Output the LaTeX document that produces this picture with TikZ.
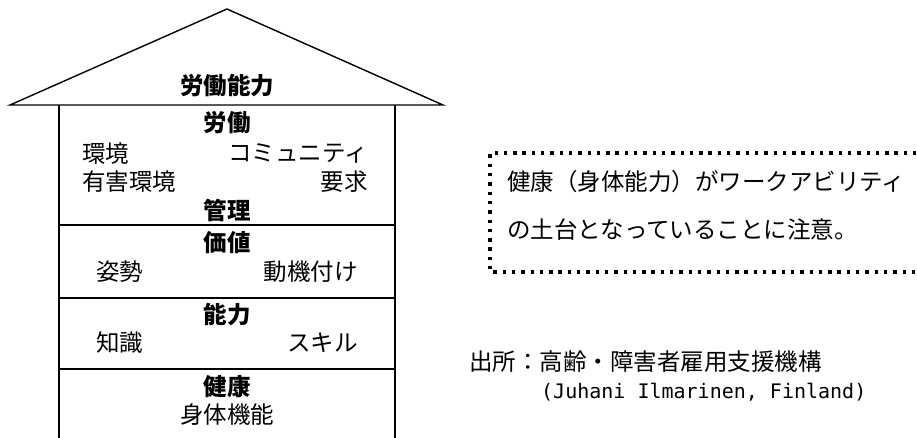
\documentclass[tikz,border=0pt]{standalone}
\usepackage{fontspec}
\setmainfont{Noto Sans CJK JP}
\newfontfamily\monofnt{DejaVu Sans Mono}
\begin{document}
\begin{tikzpicture}[x=1pt,y=1pt,
  txt/.style={inner sep=0pt,font=\fontsize{23.5}{28}\selectfont},
  head/.style={txt,font=\fontsize{23.5}{28}\selectfont\bfseries},
  wall/.style={line width=2pt},
  roof/.style={line width=1.4pt,line join=miter},
  note/.style={line width=3.4pt,dash pattern=on 3.4pt off 5.9pt}]
\useasboundingbox (0,0) rectangle (917,-437);
% roof
\coordinate (apex) at (227,-9);
\coordinate (rl) at (10,-105);
\coordinate (rr) at (443,-105);
\draw[roof] (rl) -- (apex) -- (rr) -- cycle;
% walls
\coordinate (wl) at (59,-105);
\coordinate (wr) at (395,-105);
\coordinate (bl) at (59,-445);
\coordinate (br) at (395,-445);
\draw[wall] (wl) -- (bl);
\draw[wall] (wr) -- (br);
% dividers
\coordinate (d1l) at (59,-225); \coordinate (d1r) at (395,-225);
\coordinate (d2l) at (59,-298); \coordinate (d2r) at (395,-298);
\coordinate (d3l) at (59,-369); \coordinate (d3r) at (395,-369);
\draw[wall] (d1l) -- (d1r);
\draw[wall] (d2l) -- (d2r);
\draw[wall] (d3l) -- (d3r);
% texts
\node[head] (t0) at (227,-86) {労働能力};
\node[head] (t1) at (227,-123) {労働};
\node[txt,anchor=west] (t2) at (82,-154) {環境};
\node[txt,anchor=east] (t3) at (368,-154) {コミュニティ};
\node[txt,anchor=west] (t4) at (82,-182) {有害環境};
\node[txt,anchor=east] (t5) at (368,-182) {要求};
\node[head] (t6) at (227,-210) {管理};
\node[head] (t7) at (227,-243) {価値};
\node[txt,anchor=west] (t8) at (96,-272) {姿勢};
\node[txt,anchor=east] (t9) at (358,-272) {動機付け};
\node[head] (t10) at (227,-315) {能力};
\node[txt,anchor=west] (t11) at (96,-343) {知識};
\node[txt,anchor=east] (t12) at (358,-343) {スキル};
\node[head] (t13) at (227,-387) {健康};
\node[txt] (t14) at (227,-415) {身体機能};
% note box
\coordinate (n1) at (935,-153);
\coordinate (n2) at (490,-153);
\coordinate (n3) at (490,-272);
\coordinate (n4) at (935,-272);
\draw[note] (n1) -- (n2) -- (n3) -- (n4);
\node[txt,anchor=west] (m1) at (507,-182) {健康（身体能力）がワークアビリティ};
\node[txt,anchor=west] (m2) at (507,-230) {の土台となっていることに注意。};
% source
\node[txt,anchor=west] (s1) at (469,-362) {出所：高齢・障害者雇用支援機構};
\node[txt,anchor=west,font=\monofnt\fontsize{20}{24}\selectfont] (s2) at (541,-392) {(Juhani Ilmarinen, Finland)};
\end{tikzpicture}
\end{document}
